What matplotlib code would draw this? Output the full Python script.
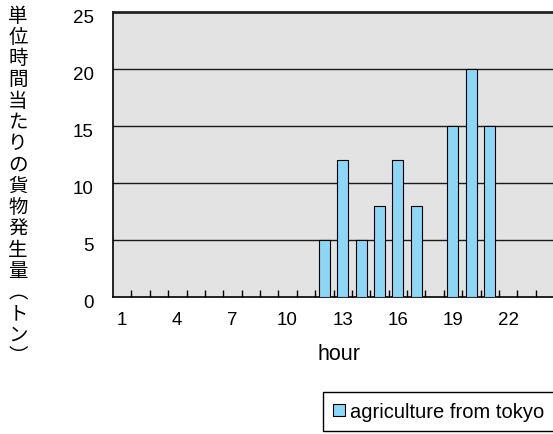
import matplotlib
matplotlib.use("Agg")
import matplotlib.pyplot as plt
import matplotlib.transforms as mtransforms
from matplotlib.patches import Patch, Rectangle

# hourly freight volume (tons)
hours = list(range(1, 25))
tons = [0, 0, 0, 0, 0, 0, 0, 0, 0, 0, 0, 5,
        12, 5, 8, 12, 8, 0, 15, 20, 15, 0, 0, 0]
hour_labels = [1, 4, 7, 10, 13, 16, 19, 22]
y_ticks = [0, 5, 10, 15, 20, 25]
series_name = "agriculture from tokyo"
y_title = "単位時間当たりの貨物発生量︵トン︶"

bar_color = "#8DD6F5"
W, H = 553, 435

plt.rcParams["font.family"] = ["Liberation Sans", "DejaVu Sans"]

fig = plt.figure(figsize=(W / 100, H / 100), dpi=100)
ax = fig.add_axes([113 / W, 1 - 297.7 / H, 441 / W, 285 / H])
ax.set_facecolor("#E3E3E3")

# only plot bars that carry a value
xs = [h for h, t in zip(hours, tons) if t > 0]
ys = [t for t in tons if t > 0]
ax.bar(xs, ys, width=0.6, color=bar_color, edgecolor="black", linewidth=0.8, zorder=3)

ax.set_xlim(0.5, 24.5)
ax.set_ylim(0, 25)

# horizontal gridlines
for v in y_ticks[1:-1]:
    ax.axhline(v, color="#1a1a1a", linewidth=1.0, zorder=1)

ax.set_yticks(y_ticks)
ax.tick_params(axis="y", length=0, pad=14, labelsize=13.5)
ax.set_xticks(hour_labels)
ax.set_xticks([h + 0.5 for h in hours[:-1]], minor=True)
ax.tick_params(axis="x", which="major", length=0, pad=10, labelsize=13.5)
ax.tick_params(axis="x", which="minor", direction="in", length=5, width=1, color="black")

# nudge y labels slightly downward
offset = mtransforms.ScaledTranslation(0, -3.5 / 100, fig.dpi_scale_trans)
for lbl in ax.get_yticklabels():
    lbl.set_transform(lbl.get_transform() + offset)

for side in ("left", "bottom"):
    ax.spines[side].set_color("black")
    ax.spines[side].set_linewidth(1.2)
ax.spines["top"].set_color("#222222")
ax.spines["top"].set_linewidth(2.0)
ax.spines["right"].set_visible(False)

ax.set_xlabel("hour", fontsize=15.5)
ax.xaxis.set_label_coords((339 - 113) / 441, (297.7 - 355) / 285)
ax.xaxis.label.set_verticalalignment("center")

# vertical japanese axis title, one character per row
pitch = 21.3
for i, ch in enumerate(y_title):
    fig.text(18 / W, 1 - (16 + i * pitch) / H, ch, ha="center", va="center",
             fontsize=14, family=["Noto Sans CJK JP", "DejaVu Sans"])

# legend box runs off the right edge
fig.patches.append(Rectangle((323 / W, 1 - 432 / H), 240 / W, 39 / H,
                             transform=fig.transFigure, facecolor="white",
                             edgecolor="black", linewidth=1.0))
handle = Patch(facecolor=bar_color, edgecolor="black", linewidth=0.8)
leg = fig.legend([handle], [series_name], loc="center left",
                 bbox_to_anchor=(329 / W, 1 - 412.5 / H), borderaxespad=0,
                 fontsize=14.5, frameon=False,
                 handlelength=0.6, handleheight=0.6, handletextpad=0.25,
                 borderpad=0.2)

fig.savefig("out.png", dpi=100, facecolor="white")
